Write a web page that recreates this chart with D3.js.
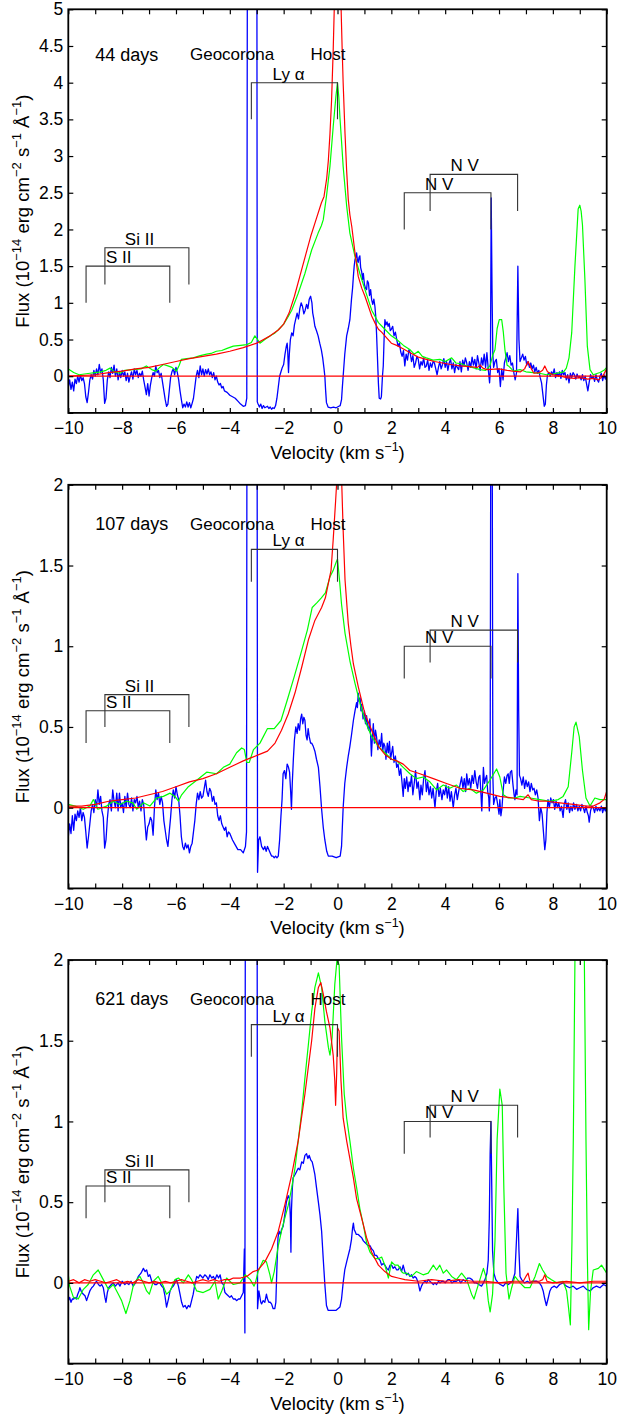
<!DOCTYPE html>
<html><head><meta charset="utf-8">
<script src="https://cdn.jsdelivr.net/npm/d3@7"></script>
<style>body{margin:0;background:#fff} text{font-family:"Liberation Sans",Arial,sans-serif;fill:#000}</style>
</head><body><svg id="c" width="618" height="1415"></svg>
<script>
// ---------- DATA (velocity km/s, flux 1e-14 erg cm^-2 s^-1 A^-1) ----------
const blue44 = [[-10,-0.15],[-9.95,-0.05],[-9.9,-0.18],[-9.85,-0.08],[-9.8,-0.2],[-9.75,-0.04],[-9.7,-0.1],[-9.65,0.0],[-9.6,-0.08],[-9.55,0.02],[-9.5,-0.06],[-9.45,-0.02],[-9.4,-0.1],[-9.35,-0.28],[-9.3,-0.36],[-9.25,-0.22],[-9.2,-0.05],[-9.15,0.02],[-9.1,-0.04],[-9.05,0.08],[-9.0,0.0],[-8.95,0.1],[-8.9,0.02],[-8.85,0.16],[-8.8,0.05],[-8.75,0.1],[-8.7,-0.05],[-8.65,-0.37],[-8.6,-0.3],[-8.55,-0.05],[-8.5,0.06],[-8.45,-0.02],[-8.4,0.12],[-8.35,0.04],[-8.3,0.15],[-8.25,0.0],[-8.2,0.1],[-8.15,-0.05],[-8.1,0.05],[-8.05,-0.02],[-8.0,0.08],[-7.95,0.0],[-7.9,0.06],[-7.85,-0.06],[-7.8,0.04],[-7.75,-0.08],[-7.7,0.0],[-7.65,0.06],[-7.6,-0.04],[-7.55,0.1],[-7.5,0.02],[-7.45,0.08],[-7.4,-0.02],[-7.35,0.04],[-7.3,0.0],[-7.25,0.07],[-7.2,-0.05],[-7.15,-0.15],[-7.1,-0.25],[-7.05,-0.1],[-7.0,-0.27],[-6.95,-0.12],[-6.9,-0.02],[-6.85,0.05],[-6.8,0.0],[-6.75,0.14],[-6.7,0.05],[-6.65,0.08],[-6.6,-0.02],[-6.55,0.04],[-6.5,-0.08],[-6.45,-0.2],[-6.4,-0.32],[-6.35,-0.41],[-6.3,-0.38],[-6.25,-0.2],[-6.2,-0.02],[-6.15,0.06],[-6.1,0.1],[-6.05,0.02],[-6.0,0.12],[-5.95,0.05],[-5.9,-0.05],[-5.85,-0.2],[-5.8,-0.32],[-5.75,-0.43],[-5.7,-0.38],[-5.65,-0.42],[-5.6,-0.35],[-5.55,-0.42],[-5.5,-0.36],[-5.45,-0.43],[-5.4,-0.37],[-5.35,-0.3],[-5.3,-0.15],[-5.25,0.0],[-5.2,0.08],[-5.15,-0.02],[-5.1,0.14],[-5.05,0.02],[-5.0,0.1],[-4.95,0.0],[-4.9,0.09],[-4.85,0.03],[-4.8,0.1],[-4.75,0.02],[-4.7,0.06],[-4.65,-0.02],[-4.6,0.05],[-4.55,-0.05],[-4.5,0.0],[-4.45,-0.08],[-4.4,-0.12],[-4.35,-0.1],[-4.3,-0.16],[-4.25,-0.14],[-4.2,-0.2],[-4.1,-0.22],[-4.0,-0.26],[-3.9,-0.28],[-3.8,-0.3],[-3.7,-0.34],[-3.6,-0.38],[-3.5,-0.41],[-3.42,-0.4],[-3.37,-0.3],[-3.34,8],[-3.0,8],[-2.98,-0.35],[-2.95,-0.38],[-2.9,-0.42],[-2.85,-0.38],[-2.8,-0.44],[-2.75,-0.4],[-2.7,-0.43],[-2.6,-0.41],[-2.55,-0.44],[-2.5,-0.42],[-2.45,-0.45],[-2.4,-0.43],[-2.35,-0.44],[-2.3,-0.4],[-2.25,-0.3],[-2.2,-0.15],[-2.15,0.0],[-2.1,0.06],[-2.05,0.12],[-2.0,0.16],[-1.95,0.3],[-1.9,0.41],[-1.87,0.45],[-1.85,0.35],[-1.82,0.05],[-1.79,0.3],[-1.75,0.5],[-1.7,0.59],[-1.65,0.55],[-1.6,0.7],[-1.55,0.78],[-1.5,0.86],[-1.45,0.78],[-1.4,0.92],[-1.35,1.0],[-1.3,0.95],[-1.25,0.85],[-1.2,0.9],[-1.15,0.98],[-1.1,0.92],[-1.05,1.05],[-1.0,1.09],[-0.95,1.0],[-0.92,0.86],[-0.88,0.78],[-0.84,0.68],[-0.78,0.62],[-0.72,0.55],[-0.66,0.45],[-0.6,0.36],[-0.55,0.25],[-0.5,0.1],[-0.47,0.0],[-0.44,-0.2],[-0.41,-0.36],[-0.35,-0.42],[-0.25,-0.43],[-0.15,-0.42],[-0.05,-0.43],[0.05,-0.41],[0.1,-0.4],[0.15,-0.32],[0.18,-0.15],[0.21,0.0],[0.27,0.3],[0.34,0.55],[0.4,0.65],[0.46,0.77],[0.52,1.05],[0.56,1.2],[0.59,1.36],[0.62,1.5],[0.65,1.59],[0.68,1.62],[0.71,1.68],[0.74,1.58],[0.77,1.55],[0.8,1.62],[0.83,1.64],[0.86,1.48],[0.9,1.42],[0.93,1.32],[0.96,1.4],[1.0,1.25],[1.04,1.2],[1.08,1.18],[1.11,1.3],[1.15,1.27],[1.19,1.1],[1.23,1.18],[1.27,1.04],[1.31,0.98],[1.35,1.05],[1.39,0.95],[1.42,0.82],[1.45,0.59],[1.48,0.3],[1.52,-0.1],[1.55,-0.3],[1.6,-0.31],[1.63,-0.28],[1.67,0.0],[1.7,0.14],[1.73,0.5],[1.76,0.77],[1.8,0.7],[1.84,0.74],[1.88,0.68],[1.92,0.72],[1.96,0.62],[2.0,0.64],[2.05,0.68],[2.1,0.55],[2.15,0.6],[2.2,0.5],[2.25,0.41],[2.3,0.45],[2.35,0.33],[2.4,0.27],[2.45,0.35],[2.5,0.14],[2.55,0.3],[2.6,0.22],[2.65,0.36],[2.7,0.32],[2.75,0.2],[2.8,0.28],[2.85,0.12],[2.9,0.18],[2.95,0.27],[3.0,0.23],[3.05,0.1],[3.1,0.2],[3.15,0.15],[3.2,0.25],[3.25,0.12],[3.3,0.14],[3.35,0.22],[3.4,0.08],[3.45,0.18],[3.5,0.12],[3.55,0.2],[3.6,0.18],[3.65,0.1],[3.7,0.02],[3.75,0.12],[3.8,0.2],[3.85,0.1],[3.9,0.16],[3.95,0.24],[4.0,0.12],[4.05,0.2],[4.1,0.08],[4.15,0.18],[4.2,0.23],[4.25,0.1],[4.3,0.18],[4.35,0.05],[4.4,0.16],[4.45,0.12],[4.5,0.09],[4.55,0.2],[4.6,0.06],[4.65,0.22],[4.7,0.14],[4.75,0.25],[4.8,0.18],[4.85,0.08],[4.9,0.2],[4.95,0.12],[5.0,0.26],[5.05,0.15],[5.1,0.23],[5.15,0.1],[5.2,0.28],[5.25,0.18],[5.3,0.08],[5.35,0.25],[5.4,0.15],[5.45,0.3],[5.5,0.12],[5.55,0.32],[5.6,0.1],[5.65,-0.09],[5.68,0.1],[5.71,2.43],[5.74,1.2],[5.77,0.3],[5.8,0.12],[5.85,0.2],[5.9,0.23],[5.95,0.05],[6.0,0.1],[6.05,-0.14],[6.1,0.1],[6.15,-0.05],[6.2,0.18],[6.25,0.25],[6.3,0.32],[6.35,0.2],[6.4,0.28],[6.45,0.15],[6.5,0.18],[6.55,0.05],[6.6,-0.05],[6.65,0.05],[6.7,1.5],[6.74,0.5],[6.78,0.2],[6.83,0.25],[6.88,0.3],[6.93,0.22],[6.98,0.27],[7.03,0.15],[7.08,0.2],[7.13,0.12],[7.18,0.18],[7.23,0.1],[7.28,0.15],[7.33,0.06],[7.38,0.12],[7.43,0.04],[7.48,0.08],[7.53,-0.02],[7.58,-0.09],[7.63,-0.25],[7.68,-0.41],[7.72,-0.38],[7.76,-0.12],[7.8,0.02],[7.85,0.05],[7.9,0.0],[7.95,0.06],[8.0,0.02],[8.05,0.1],[8.1,-0.02],[8.15,0.05],[8.2,0.0],[8.25,0.06],[8.3,-0.03],[8.35,0.08],[8.4,0.02],[8.45,0.05],[8.5,-0.05],[8.55,0.02],[8.6,-0.09],[8.65,0.04],[8.7,-0.02],[8.75,0.05],[8.8,0.02],[8.85,-0.04],[8.9,0.03],[8.95,-0.02],[9.0,0.0],[9.05,-0.05],[9.1,0.02],[9.15,-0.06],[9.2,0.0],[9.25,-0.1],[9.3,-0.2],[9.35,-0.08],[9.4,0.02],[9.45,-0.03],[9.5,0.0],[9.55,-0.07],[9.6,0.02],[9.65,-0.05],[9.7,-0.08],[9.75,0.0],[9.8,0.04],[9.85,-0.06],[9.9,0.02],[9.95,-0.04],[10.0,0.0]];
const red44 = [[-10,0.0],[-9.5,0.01],[-9,0.02],[-8.5,0.05],[-8,0.07],[-7.5,0.1],[-7,0.12],[-6.5,0.16],[-6,0.2],[-5.5,0.24],[-5,0.27],[-4.5,0.3],[-4,0.34],[-3.5,0.39],[-3,0.45],[-2.5,0.55],[-2.2,0.63],[-2,0.71],[-1.8,0.86],[-1.6,1.09],[-1.4,1.36],[-1.2,1.63],[-1.0,1.9],[-0.8,2.13],[-0.6,2.36],[-0.5,2.45],[-0.4,2.7],[-0.34,2.94],[-0.28,3.3],[-0.22,3.76],[-0.16,4.44],[-0.1,5.3],[-0.05,6.5],[0.05,6.5],[0.12,5.2],[0.17,4.5],[0.21,4.0],[0.28,3.3],[0.34,2.8],[0.4,2.41],[0.46,2.2],[0.53,2.04],[0.65,1.68],[0.77,1.36],[0.9,1.2],[1.02,1.09],[1.15,0.95],[1.27,0.82],[1.4,0.72],[1.52,0.64],[1.64,0.6],[1.76,0.55],[2.0,0.45],[2.2,0.42],[2.4,0.38],[2.7,0.32],[3.0,0.26],[3.3,0.23],[3.6,0.2],[3.9,0.18],[4.2,0.16],[4.55,0.14],[4.9,0.13],[5.2,0.12],[5.3,0.15],[5.4,0.11],[5.55,0.09],[6.0,0.1],[6.3,0.08],[6.5,0.07],[6.8,0.06],[6.95,0.1],[7.08,0.2],[7.2,0.1],[7.3,0.04],[7.5,0.05],[7.62,0.08],[7.7,0.14],[7.8,0.06],[8.0,0.02],[8.3,0.0],[8.5,-0.02],[8.8,-0.03],[9.0,-0.02],[9.3,-0.04],[9.5,-0.03],[9.7,-0.05],[9.85,0.0],[10,0.1]];
const green44 = [[-10,0.1],[-9.8,0.05],[-9.6,0.02],[-9.4,0.03],[-9.2,0.04],[-9.0,0.05],[-8.8,0.06],[-8.6,0.08],[-8.45,0.11],[-8.3,0.06],[-8.08,0.04],[-7.9,0.08],[-7.6,0.09],[-7.3,0.1],[-7.1,0.14],[-6.9,0.09],[-6.75,0.07],[-6.6,0.12],[-6.47,0.16],[-6.3,0.14],[-6.15,0.12],[-5.98,0.07],[-5.88,0.15],[-5.8,0.23],[-5.6,0.24],[-5.36,0.25],[-5.1,0.28],[-4.86,0.3],[-4.7,0.31],[-4.5,0.34],[-4.3,0.35],[-4.1,0.38],[-3.87,0.41],[-3.6,0.42],[-3.37,0.43],[-3.2,0.46],[-3.07,0.55],[-2.97,0.5],[-2.88,0.45],[-2.7,0.5],[-2.5,0.55],[-2.32,0.59],[-2.15,0.65],[-2.0,0.71],[-1.85,0.8],[-1.7,0.9],[-1.46,1.13],[-1.21,1.4],[-0.96,1.72],[-0.72,1.95],[-0.6,2.05],[-0.53,2.13],[-0.41,2.45],[-0.28,2.86],[-0.16,3.4],[-0.06,3.81],[0.0,4.0],[0.05,3.8],[0.09,3.53],[0.15,3.2],[0.21,2.86],[0.34,2.32],[0.46,1.95],[0.65,1.63],[0.83,1.4],[1.02,1.18],[1.27,0.9],[1.52,0.73],[1.76,0.64],[2.0,0.55],[2.2,0.5],[2.45,0.42],[2.7,0.36],[2.85,0.3],[3.0,0.34],[3.15,0.27],[3.3,0.25],[3.55,0.22],[3.8,0.23],[4.0,0.2],[4.24,0.25],[4.4,0.18],[4.6,0.17],[4.8,0.14],[5.0,0.12],[5.3,0.09],[5.5,0.08],[5.66,0.14],[5.78,0.3],[5.85,0.36],[5.93,0.65],[6.01,0.77],[6.1,0.77],[6.16,0.6],[6.22,0.36],[6.3,0.15],[6.35,0.14],[6.54,0.07],[6.78,0.09],[7.0,0.06],[7.27,0.05],[7.5,0.04],[7.76,0.02],[8.0,0.03],[8.27,0.05],[8.4,0.06],[8.5,0.11],[8.6,0.25],[8.7,0.59],[8.82,1.5],[8.94,2.28],[9.0,2.33],[9.05,2.25],[9.1,2.06],[9.19,1.32],[9.28,0.41],[9.38,0.09],[9.5,0.02],[9.75,0.05],[9.9,0.08],[10,0.12]];

const blue107 = [[-10,-0.18],[-9.95,-0.1],[-9.9,-0.16],[-9.85,-0.05],[-9.8,-0.14],[-9.75,-0.04],[-9.7,-0.08],[-9.65,-0.02],[-9.6,-0.06],[-9.55,0.0],[-9.5,-0.08],[-9.45,-0.03],[-9.4,-0.06],[-9.35,-0.15],[-9.3,-0.25],[-9.25,-0.18],[-9.2,-0.1],[-9.15,-0.02],[-9.1,0.02],[-9.05,-0.03],[-9.0,0.05],[-8.95,0.0],[-8.9,0.11],[-8.85,0.02],[-8.8,0.07],[-8.75,-0.02],[-8.7,-0.06],[-8.65,-0.25],[-8.6,-0.2],[-8.55,-0.07],[-8.5,0.02],[-8.45,0.05],[-8.4,-0.02],[-8.35,0.11],[-8.3,0.04],[-8.25,0.0],[-8.2,0.09],[-8.15,-0.02],[-8.1,0.09],[-8.05,0.0],[-8.0,0.03],[-7.95,-0.03],[-7.9,0.07],[-7.85,0.0],[-7.8,0.09],[-7.75,0.02],[-7.7,0.0],[-7.65,0.06],[-7.6,-0.02],[-7.55,0.05],[-7.5,0.03],[-7.45,0.07],[-7.4,0.0],[-7.35,0.04],[-7.3,-0.02],[-7.25,0.05],[-7.2,0.02],[-7.15,-0.1],[-7.1,-0.2],[-7.05,-0.12],[-7.0,-0.1],[-6.95,-0.06],[-6.9,-0.08],[-6.85,-0.17],[-6.8,0.0],[-6.75,0.11],[-6.7,0.05],[-6.65,0.09],[-6.6,0.02],[-6.55,0.07],[-6.5,0.03],[-6.45,-0.08],[-6.4,-0.14],[-6.35,-0.2],[-6.3,-0.24],[-6.25,-0.15],[-6.2,-0.06],[-6.15,0.05],[-6.1,0.11],[-6.05,0.06],[-6.0,0.13],[-5.95,0.08],[-5.9,0.05],[-5.85,-0.05],[-5.8,-0.18],[-5.75,-0.24],[-5.7,-0.26],[-5.65,-0.22],[-5.6,-0.25],[-5.55,-0.23],[-5.5,-0.28],[-5.45,-0.24],[-5.4,-0.22],[-5.35,-0.15],[-5.3,-0.08],[-5.25,0.02],[-5.2,0.09],[-5.15,0.05],[-5.1,0.1],[-5.05,0.06],[-5.0,0.07],[-4.95,0.12],[-4.9,0.17],[-4.85,0.1],[-4.8,0.07],[-4.75,0.12],[-4.7,0.1],[-4.65,0.04],[-4.6,0.07],[-4.55,0.02],[-4.5,0.03],[-4.45,-0.05],[-4.4,-0.08],[-4.35,-0.05],[-4.3,-0.1],[-4.25,-0.12],[-4.2,-0.14],[-4.15,-0.12],[-4.1,-0.18],[-4.05,-0.15],[-4.0,-0.16],[-3.9,-0.2],[-3.8,-0.23],[-3.7,-0.26],[-3.6,-0.26],[-3.5,-0.28],[-3.42,-0.24],[-3.38,-0.15],[-3.36,3],[-2.99,3],[-2.97,-0.4],[-2.93,-0.2],[-2.88,-0.18],[-2.82,-0.24],[-2.75,-0.26],[-2.7,-0.24],[-2.65,-0.27],[-2.6,-0.24],[-2.55,-0.26],[-2.5,-0.28],[-2.45,-0.3],[-2.4,-0.3],[-2.35,-0.31],[-2.3,-0.3],[-2.25,-0.31],[-2.2,-0.3],[-2.15,-0.2],[-2.1,-0.05],[-2.06,0.05],[-2.02,0.21],[-1.97,0.23],[-1.92,0.18],[-1.87,0.27],[-1.82,0.25],[-1.78,0.22],[-1.74,0.1],[-1.71,-0.01],[-1.68,0.15],[-1.64,0.3],[-1.6,0.42],[-1.55,0.5],[-1.5,0.46],[-1.46,0.52],[-1.41,0.48],[-1.37,0.55],[-1.33,0.58],[-1.29,0.52],[-1.25,0.56],[-1.21,0.54],[-1.17,0.45],[-1.13,0.42],[-1.09,0.49],[-1.05,0.44],[-1.0,0.4],[-0.96,0.4],[-0.9,0.38],[-0.84,0.35],[-0.78,0.3],[-0.71,0.25],[-0.65,0.13],[-0.59,-0.01],[-0.53,-0.12],[-0.47,-0.2],[-0.4,-0.27],[-0.34,-0.3],[-0.2,-0.3],[-0.05,-0.31],[0.1,-0.3],[0.15,-0.24],[0.18,-0.12],[0.21,0.0],[0.27,0.15],[0.34,0.25],[0.4,0.32],[0.46,0.38],[0.52,0.45],[0.59,0.54],[0.65,0.6],[0.71,0.65],[0.74,0.62],[0.77,0.71],[0.8,0.66],[0.84,0.68],[0.87,0.6],[0.9,0.64],[0.95,0.55],[1.0,0.6],[1.04,0.52],[1.08,0.57],[1.12,0.5],[1.16,0.48],[1.2,0.55],[1.23,0.45],[1.26,0.32],[1.29,0.42],[1.33,0.52],[1.37,0.4],[1.41,0.48],[1.45,0.44],[1.5,0.36],[1.55,0.42],[1.6,0.38],[1.64,0.46],[1.68,0.35],[1.72,0.4],[1.76,0.38],[1.8,0.3],[1.85,0.4],[1.89,0.34],[1.93,0.41],[1.97,0.3],[2.01,0.34],[2.05,0.38],[2.1,0.28],[2.15,0.32],[2.2,0.25],[2.25,0.27],[2.3,0.2],[2.35,0.24],[2.4,0.15],[2.44,0.07],[2.48,0.18],[2.52,0.12],[2.57,0.19],[2.62,0.1],[2.66,0.16],[2.7,0.13],[2.75,0.2],[2.8,0.08],[2.85,0.15],[2.9,0.23],[2.95,0.12],[3.0,0.16],[3.06,0.05],[3.1,0.14],[3.15,0.08],[3.2,0.18],[3.25,0.23],[3.3,0.1],[3.35,0.16],[3.4,0.08],[3.45,0.13],[3.5,0.06],[3.55,0.12],[3.62,0.0],[3.67,0.1],[3.72,0.15],[3.77,0.07],[3.82,0.12],[3.88,0.05],[3.93,0.11],[3.98,0.08],[4.03,0.14],[4.08,0.06],[4.13,0.13],[4.18,0.04],[4.23,0.1],[4.3,0.0],[4.35,0.08],[4.4,0.12],[4.45,0.05],[4.5,0.1],[4.55,0.14],[4.61,0.19],[4.66,0.12],[4.71,0.18],[4.76,0.1],[4.8,0.21],[4.85,0.14],[4.9,0.18],[4.95,0.12],[5.0,0.2],[5.05,0.15],[5.1,0.23],[5.15,0.16],[5.2,0.12],[5.25,0.19],[5.29,0.2],[5.33,0.08],[5.36,-0.02],[5.39,0.12],[5.42,0.25],[5.46,0.15],[5.5,0.18],[5.54,0.2],[5.58,0.1],[5.62,0.06],[5.64,-0.02],[5.67,0.1],[5.7,3.0],[5.74,3.0],[5.77,0.2],[5.8,0.02],[5.85,0.06],[5.9,0.07],[5.95,0.02],[6.0,-0.04],[6.03,0.05],[6.07,-0.05],[6.11,0.0],[6.15,0.1],[6.2,0.19],[6.25,0.15],[6.3,0.2],[6.34,0.21],[6.38,0.15],[6.42,0.22],[6.47,0.23],[6.52,0.14],[6.56,0.08],[6.59,0.05],[6.63,0.11],[6.67,0.08],[6.7,1.45],[6.73,0.6],[6.76,0.2],[6.8,0.18],[6.85,0.14],[6.9,0.19],[6.95,0.12],[7.0,0.17],[7.05,0.13],[7.1,0.16],[7.15,0.1],[7.2,0.15],[7.25,0.11],[7.3,0.12],[7.35,0.08],[7.4,0.11],[7.45,0.06],[7.5,-0.08],[7.55,0.0],[7.6,-0.04],[7.65,-0.15],[7.7,-0.26],[7.74,-0.2],[7.78,-0.03],[7.82,0.05],[7.87,0.0],[7.92,0.06],[7.97,0.03],[8.02,0.05],[8.07,-0.01],[8.12,0.04],[8.17,0.0],[8.22,0.03],[8.27,-0.02],[8.32,0.01],[8.38,-0.06],[8.42,0.02],[8.47,0.05],[8.52,-0.01],[8.57,0.03],[8.62,-0.03],[8.67,0.01],[8.72,-0.02],[8.77,0.03],[8.82,-0.01],[8.88,0.02],[8.93,-0.02],[8.98,0.01],[9.03,-0.02],[9.08,0.02],[9.13,0.0],[9.18,-0.03],[9.23,0.01],[9.28,-0.03],[9.32,-0.05],[9.35,-0.09],[9.4,-0.02],[9.45,0.01],[9.5,0.0],[9.55,-0.03],[9.6,0.01],[9.65,-0.02],[9.7,0.0],[9.75,-0.02],[9.8,0.01],[9.85,-0.03],[9.9,0.0],[9.95,-0.02],[10,0.0]];
const red107 = [[-10,0.01],[-9.5,0.01],[-9,0.02],[-8.5,0.04],[-8,0.05],[-7.5,0.06],[-7,0.08],[-6.5,0.1],[-6,0.13],[-5.5,0.16],[-5,0.18],[-4.5,0.21],[-4,0.25],[-3.5,0.29],[-3.2,0.31],[-2.9,0.33],[-2.6,0.35],[-2.32,0.4],[-2.08,0.48],[-1.83,0.58],[-1.58,0.71],[-1.33,0.87],[-1.08,1.04],[-0.84,1.16],[-0.59,1.24],[-0.45,1.3],[-0.34,1.39],[-0.24,1.47],[-0.16,1.66],[-0.07,1.9],[0.0,2.1],[0.1,2.5],[0.15,2.05],[0.21,1.72],[0.28,1.41],[0.4,1.14],[0.5,1.0],[0.59,0.89],[0.77,0.75],[1.02,0.58],[1.27,0.48],[1.52,0.38],[1.76,0.33],[2.01,0.3],[2.2,0.29],[2.44,0.27],[2.69,0.23],[3.06,0.21],[3.56,0.18],[4.05,0.15],[4.55,0.12],[5.04,0.11],[5.54,0.09],[6.03,0.07],[6.53,0.06],[6.9,0.05],[7.08,0.08],[7.2,0.05],[7.5,0.04],[7.77,0.04],[8.26,0.03],[8.76,0.02],[9.25,0.01],[9.5,0.01],[9.75,0.03],[9.9,0.05],[10,0.1]];
const green107 = [[-10,0.02],[-9.75,0.01],[-9.44,-0.01],[-9.2,0.01],[-9.07,0.05],[-8.9,-0.01],[-8.58,0.01],[-8.33,0.04],[-8.08,0.02],[-7.83,0.04],[-7.6,0.03],[-7.46,-0.01],[-7.21,0.03],[-6.97,0.01],[-6.72,0.06],[-6.47,0.07],[-6.22,0.09],[-6.04,0.07],[-5.91,0.04],[-5.79,0.08],[-5.54,0.13],[-5.23,0.17],[-4.86,0.22],[-4.49,0.21],[-4.24,0.25],[-4.0,0.27],[-3.75,0.34],[-3.56,0.37],[-3.46,0.36],[-3.37,0.28],[-3.28,0.28],[-3.12,0.36],[-2.88,0.4],[-2.6,0.49],[-2.35,0.49],[-2.1,0.54],[-1.86,0.67],[-1.61,0.81],[-1.37,0.95],[-1.12,1.1],[-0.94,1.24],[-0.76,1.27],[-0.6,1.3],[-0.45,1.33],[-0.28,1.43],[-0.16,1.47],[-0.05,1.52],[0.0,1.54],[0.08,1.4],[0.15,1.26],[0.28,1.08],[0.46,0.91],[0.65,0.77],[0.83,0.65],[1.02,0.54],[1.27,0.44],[1.52,0.38],[1.76,0.34],[2.01,0.3],[2.2,0.29],[2.44,0.25],[2.69,0.21],[2.93,0.18],[3.18,0.19],[3.43,0.16],[3.68,0.11],[3.93,0.14],[4.17,0.12],[4.42,0.14],[4.67,0.1],[4.91,0.12],[5.16,0.09],[5.42,0.11],[5.66,0.17],[5.91,0.24],[6.03,0.19],[6.16,0.08],[6.34,0.06],[6.59,0.06],[6.78,0.07],[7.15,0.06],[7.52,0.05],[7.89,0.04],[8.2,0.05],[8.38,0.07],[8.57,0.13],[8.7,0.34],[8.79,0.5],[8.86,0.53],[8.98,0.44],[9.1,0.23],[9.23,0.06],[9.38,0.01],[9.56,0.06],[9.75,0.05],[10,0.05]];

const blue621 = [[-10,-0.11],[-9.95,-0.09],[-9.9,-0.12],[-9.85,-0.1],[-9.8,-0.1],[-9.75,-0.09],[-9.7,-0.1],[-9.65,-0.07],[-9.6,-0.05],[-9.57,-0.03],[-9.5,-0.06],[-9.44,-0.07],[-9.38,-0.08],[-9.32,-0.11],[-9.26,-0.08],[-9.2,-0.05],[-9.13,-0.03],[-9.07,-0.02],[-9.0,0.0],[-8.95,0.01],[-8.88,-0.01],[-8.82,-0.02],[-8.76,-0.01],[-8.7,-0.03],[-8.64,-0.09],[-8.6,-0.12],[-8.55,-0.06],[-8.5,-0.03],[-8.4,-0.01],[-8.33,0.0],[-8.25,-0.02],[-8.15,0.0],[-8.08,-0.02],[-8.0,0.01],[-7.9,-0.01],[-7.83,0.0],[-7.75,-0.01],[-7.67,0.01],[-7.59,-0.02],[-7.5,0.0],[-7.4,0.04],[-7.3,0.06],[-7.21,0.09],[-7.15,0.07],[-7.09,0.08],[-7.03,0.04],[-6.97,0.05],[-6.9,0.01],[-6.84,0.0],[-6.78,-0.01],[-6.72,-0.01],[-6.66,0.0],[-6.6,0.0],[-6.53,-0.02],[-6.47,-0.03],[-6.41,-0.08],[-6.35,-0.15],[-6.28,-0.1],[-6.22,-0.05],[-6.16,-0.03],[-6.1,-0.02],[-6.04,0.0],[-5.98,0.02],[-5.91,-0.02],[-5.85,-0.07],[-5.79,-0.12],[-5.73,-0.15],[-5.66,-0.14],[-5.6,-0.16],[-5.54,-0.14],[-5.48,-0.15],[-5.42,-0.11],[-5.36,-0.07],[-5.3,-0.01],[-5.23,0.04],[-5.17,0.03],[-5.11,0.05],[-5.0,0.03],[-4.93,0.05],[-4.86,0.04],[-4.8,0.02],[-4.74,0.05],[-4.67,0.03],[-4.61,0.04],[-4.55,0.02],[-4.48,0.05],[-4.42,0.03],[-4.36,0.05],[-4.3,0.0],[-4.24,-0.01],[-4.18,-0.06],[-4.12,-0.07],[-4.06,-0.08],[-4.0,-0.09],[-3.94,-0.08],[-3.87,-0.1],[-3.8,-0.1],[-3.75,-0.11],[-3.68,-0.1],[-3.62,-0.1],[-3.56,-0.08],[-3.5,-0.06],[-3.46,0.21],[-3.44,-0.31],[-3.42,3],[-2.99,3],[-2.97,-0.16],[-2.92,-0.05],[-2.89,-0.08],[-2.85,-0.12],[-2.82,-0.13],[-2.76,-0.11],[-2.7,-0.12],[-2.64,-0.07],[-2.6,-0.1],[-2.55,-0.12],[-2.5,-0.12],[-2.45,-0.13],[-2.39,-0.16],[-2.33,-0.16],[-2.29,-0.12],[-2.25,0.1],[-2.21,0.28],[-2.17,0.32],[-2.12,0.3],[-2.08,0.33],[-2.02,0.35],[-1.96,0.42],[-1.9,0.5],[-1.83,0.54],[-1.78,0.52],[-1.75,0.4],[-1.73,0.19],[-1.71,0.45],[-1.68,0.58],[-1.65,0.65],[-1.58,0.67],[-1.52,0.69],[-1.46,0.71],[-1.4,0.7],[-1.33,0.75],[-1.27,0.74],[-1.21,0.79],[-1.15,0.8],[-1.1,0.77],[-1.05,0.79],[-0.99,0.76],[-0.94,0.75],[-0.9,0.72],[-0.84,0.67],[-0.78,0.59],[-0.71,0.5],[-0.65,0.42],[-0.59,0.32],[-0.53,0.15],[-0.47,-0.01],[-0.41,-0.14],[-0.35,-0.17],[-0.2,-0.17],[-0.05,-0.17],[0.09,-0.15],[0.15,-0.1],[0.21,0.0],[0.27,0.08],[0.34,0.13],[0.4,0.17],[0.46,0.21],[0.52,0.27],[0.56,0.34],[0.59,0.37],[0.62,0.33],[0.65,0.32],[0.7,0.3],[0.77,0.3],[0.83,0.29],[0.9,0.28],[0.96,0.26],[1.02,0.25],[1.08,0.24],[1.15,0.23],[1.21,0.23],[1.27,0.21],[1.33,0.2],[1.39,0.17],[1.45,0.17],[1.52,0.15],[1.58,0.14],[1.64,0.11],[1.7,0.12],[1.76,0.11],[1.83,0.09],[1.89,0.08],[1.95,0.11],[2.01,0.11],[2.07,0.09],[2.13,0.1],[2.2,0.08],[2.25,0.08],[2.32,0.1],[2.38,0.07],[2.44,0.11],[2.5,0.07],[2.57,0.05],[2.63,0.06],[2.69,0.04],[2.75,0.05],[2.81,0.03],[2.87,0.04],[2.93,0.03],[3.0,0.0],[3.06,-0.05],[3.12,-0.02],[3.18,0.0],[3.25,0.01],[3.31,0.0],[3.37,0.02],[3.43,0.01],[3.5,0.0],[3.56,-0.01],[3.62,0.0],[3.68,-0.01],[3.75,0.01],[3.81,0.0],[3.87,0.01],[3.93,0.01],[4.0,0.0],[4.1,0.02],[4.17,0.02],[4.25,0.0],[4.33,0.01],[4.42,0.01],[4.5,0.02],[4.58,0.0],[4.67,0.02],[4.75,0.01],[4.83,0.03],[4.91,0.03],[5.0,0.02],[5.08,0.0],[5.16,0.0],[5.25,-0.01],[5.35,-0.02],[5.42,0.0],[5.48,0.02],[5.55,0.06],[5.6,0.14],[5.64,0.4],[5.67,0.8],[5.7,1.0],[5.73,0.6],[5.76,0.2],[5.81,0.06],[5.88,0.02],[5.97,0.0],[6.05,-0.01],[6.16,-0.02],[6.25,0.0],[6.35,-0.01],[6.41,0.0],[6.5,0.01],[6.59,0.06],[6.65,0.27],[6.7,0.46],[6.74,0.2],[6.78,0.04],[6.84,0.02],[6.95,0.0],[7.05,0.01],[7.15,0.0],[7.25,0.01],[7.4,0.01],[7.5,0.0],[7.58,-0.02],[7.64,-0.05],[7.7,-0.1],[7.76,-0.14],[7.82,-0.1],[7.89,-0.05],[7.95,-0.03],[8.05,-0.02],[8.14,-0.03],[8.25,-0.01],[8.38,0.0],[8.5,-0.02],[8.63,-0.03],[8.75,-0.02],[8.88,-0.04],[9.0,-0.03],[9.13,-0.02],[9.25,-0.04],[9.38,-0.05],[9.5,-0.03],[9.62,-0.02],[9.75,-0.03],[9.88,-0.01],[10,-0.02]];
const red621 = [[-10,0.01],[-9.8,0.02],[-9.6,0.0],[-9.4,0.02],[-9.2,0.01],[-9.0,0.02],[-8.8,0.01],[-8.6,0.0],[-8.4,0.01],[-8.2,0.02],[-8.0,0.0],[-7.8,0.01],[-7.6,0.0],[-7.4,0.02],[-7.2,0.01],[-7.0,0.0],[-6.8,0.01],[-6.6,0.0],[-6.4,0.01],[-6.2,0.0],[-6.0,0.01],[-5.8,0.02],[-5.6,0.01],[-5.4,0.0],[-5.2,0.01],[-5.0,0.02],[-4.8,0.01],[-4.6,0.02],[-4.4,0.01],[-4.2,0.02],[-4.0,0.02],[-3.87,0.03],[-3.6,0.03],[-3.37,0.04],[-3.13,0.07],[-2.95,0.08],[-2.7,0.13],[-2.45,0.21],[-2.2,0.32],[-1.96,0.48],[-1.7,0.67],[-1.46,0.88],[-1.21,1.17],[-0.96,1.5],[-0.84,1.7],[-0.71,1.83],[-0.62,1.86],[-0.53,1.79],[-0.41,1.68],[-0.28,1.58],[-0.16,1.41],[-0.1,1.25],[-0.07,1.1],[-0.03,1.3],[0.0,1.58],[0.06,1.56],[0.13,1.25],[0.21,1.02],[0.34,0.88],[0.46,0.77],[0.59,0.65],[0.71,0.52],[0.9,0.4],[1.08,0.28],[1.27,0.19],[1.52,0.11],[1.76,0.07],[2.01,0.04],[2.25,0.03],[2.5,0.02],[3.0,0.01],[3.5,0.02],[4.0,0.01],[4.5,0.02],[5.0,0.01],[5.5,0.01],[6.0,0.0],[6.5,0.01],[6.9,0.01],[7.0,0.04],[7.08,0.06],[7.15,0.01],[7.5,0.01],[7.62,0.02],[7.7,0.05],[7.78,0.01],[8.0,0.0],[8.5,0.01],[9.0,0.0],[9.5,0.01],[10,0.01]];
const green621 = [[-10,0.05],[-9.95,-0.02],[-9.81,-0.09],[-9.63,-0.1],[-9.44,-0.04],[-9.26,-0.01],[-9.07,0.05],[-8.89,0.08],[-8.7,0.02],[-8.51,-0.04],[-8.33,-0.01],[-8.14,-0.07],[-8.02,-0.11],[-7.86,-0.19],[-7.71,-0.11],[-7.59,-0.02],[-7.46,0.02],[-7.34,0.04],[-7.21,0.0],[-7.09,-0.05],[-6.99,-0.07],[-6.84,0.01],[-6.66,0.04],[-6.47,-0.02],[-6.35,-0.07],[-6.22,-0.05],[-6.04,0.02],[-5.91,0.03],[-5.73,0.0],[-5.54,0.05],[-5.42,0.02],[-5.23,-0.05],[-4.99,-0.06],[-4.74,-0.04],[-4.55,0.01],[-4.43,-0.1],[-4.3,-0.05],[-4.12,0.03],[-4.0,0.01],[-3.87,-0.01],[-3.62,0.0],[-3.43,0.05],[-3.24,0.02],[-3.1,-0.02],[-3.05,0.0],[-2.95,0.07],[-2.76,0.14],[-2.64,0.13],[-2.51,0.05],[-2.45,0.0],[-2.35,0.07],[-2.2,0.23],[-2.08,0.32],[-1.96,0.4],[-1.83,0.48],[-1.7,0.59],[-1.58,0.71],[-1.46,0.88],[-1.33,1.06],[-1.21,1.27],[-1.08,1.48],[-0.96,1.68],[-0.84,1.83],[-0.71,1.92],[-0.59,1.83],[-0.47,1.62],[-0.34,1.46],[-0.28,1.41],[-0.2,1.52],[-0.1,1.85],[-0.02,2.0],[0.06,1.97],[0.15,1.52],[0.25,1.17],[0.34,1.02],[0.46,0.88],[0.59,0.71],[0.71,0.59],[0.83,0.46],[0.96,0.36],[1.08,0.25],[1.21,0.19],[1.39,0.15],[1.52,0.15],[1.64,0.16],[1.76,0.11],[1.89,0.03],[2.01,0.13],[2.13,0.11],[2.25,0.11],[2.38,0.07],[2.44,0.06],[2.57,0.06],[2.75,0.04],[2.93,0.07],[3.18,0.05],[3.37,0.06],[3.56,0.11],[3.68,0.08],[3.8,0.11],[3.93,0.06],[4.05,0.08],[4.24,0.04],[4.42,0.02],[4.61,0.06],[4.8,0.02],[4.98,-0.07],[5.07,-0.1],[5.16,-0.05],[5.29,0.02],[5.42,0.09],[5.51,0.04],[5.6,-0.11],[5.67,-0.18],[5.76,-0.07],[5.85,0.26],[5.93,0.89],[6.03,1.2],[6.12,1.1],[6.18,0.58],[6.26,0.06],[6.37,-0.1],[6.47,-0.03],[6.59,0.04],[6.78,0.0],[6.96,-0.03],[7.15,-0.03],[7.34,0.04],[7.5,0.12],[7.62,0.08],[7.77,0.04],[7.95,0.02],[8.14,0.0],[8.38,0.01],[8.51,-0.05],[8.58,-0.15],[8.65,-0.26],[8.71,0.26],[8.76,0.89],[8.82,2.0],[8.9,3.2],[9.0,3.5],[9.1,3.2],[9.17,2.0],[9.23,0.89],[9.28,0.17],[9.33,-0.29],[9.4,-0.05],[9.5,0.08],[9.69,0.09],[9.81,0.11],[10,0.06]];

const dayLabels = ["44 days", "107 days", "621 days"];
const yMaxes = [5, 2, 2];
const xTickValues = d3.range(-10, 11, 1);
const bracketNames = ["Ly α", "Si II", "S II", "N V", "N V"];
const bracketX = [[-3.2, 0], [-8.64, -5.52], [-9.34, -6.23], [3.44, 6.69], [2.48, 5.70]];
const bracketLabelX = [-2.41, -7.9, -8.6, 4.2, 3.25];
const bracketTops = [[4.0, 1.75, 1.5, 2.75, 2.5], [1.6, 0.7, 0.6, 1.1, 1.0], [1.6, 0.7, 0.6, 1.1, 1.0]];
const bracketDrop = [0.5, 0.2, 0.2];
const headerY = [4.39, 1.76, 1.76];
const headerX = {days: -9.0, geo: -5.48, host: -1.0};

const panelData = [
  {blue: blue44, red: red44, green: green44},
  {blue: blue107, red: red107, green: green107},
  {blue: blue621, red: red621, green: green621}
];

// ---------- LAYOUT ----------
const svg = d3.select("#c");
const L = 68.3, R = 606.7, H = 403.6;
const tops = [9.3, 484.8, 960];
const FS = 17;
const FONT = "Liberation Sans, Arial, sans-serif";

function richText(sel, parts, size, supSize) {
  let shift = 0;
  parts.forEach(p => {
    const t = sel.append("tspan").text(p.t);
    if (p.sup) {
      t.attr("font-size", supSize).attr("dy", -size * 0.42);
      shift = size * 0.42;
    } else {
      t.attr("font-size", size);
      if (shift) { t.attr("dy", shift); shift = 0; }
    }
  });
}

panelData.forEach((pd, i) => {
  const top = tops[i], bottom = top + H;
  const x = d3.scaleLinear().domain([-10, 10]).range([L, R]);
  const y = d3.scaleLinear().domain([-0.5, yMaxes[i]]).range([bottom, top]);
  const g = svg.append("g");
  const clipId = "clip" + i;
  svg.append("clipPath").attr("id", clipId).append("rect")
    .attr("x", L).attr("y", top).attr("width", R - L).attr("height", H);

  const line = d3.line().x(d => x(d[0])).y(d => y(d[1]));
  const plot = g.append("g").attr("clip-path", `url(#${clipId})`);
  plot.append("path").datum(pd.blue).attr("d", line).attr("fill", "none")
    .attr("stroke", "#0000ff").attr("stroke-width", 1.3).attr("stroke-linejoin", "round");
  plot.append("path").datum(pd.green).attr("d", line).attr("fill", "none")
    .attr("stroke", "#00ff00").attr("stroke-width", 1.2).attr("stroke-linejoin", "round");
  plot.append("path").datum(pd.red).attr("d", line).attr("fill", "none")
    .attr("stroke", "#ff0000").attr("stroke-width", 1.2).attr("stroke-linejoin", "round");
  plot.append("line").attr("x1", x(-10)).attr("x2", x(10)).attr("y1", y(0)).attr("y2", y(0))
    .attr("stroke", "#ff0000").attr("stroke-width", 1.2);

  // axes
  const yTicks = d3.range(-0.5, yMaxes[i] + 0.01, 0.5);
  const yFmt = d => d < 0 ? "" : (Number.isInteger(d) ? String(d) : d.toFixed(1));
  const xFmt = d => (d % 2 === 0) ? d3.format("d")(d) : "";
  const ax = [
    g.append("g").attr("transform", `translate(0,${bottom})`)
      .call(d3.axisBottom(x).tickValues(xTickValues).tickSizeInner(-5).tickSizeOuter(0).tickPadding(9).tickFormat(xFmt)),
    g.append("g").attr("transform", `translate(0,${top})`)
      .call(d3.axisTop(x).tickValues(xTickValues).tickSizeInner(-5).tickSizeOuter(0).tickFormat("")),
    g.append("g").attr("transform", `translate(${L},0)`)
      .call(d3.axisLeft(y).tickValues(yTicks).tickSizeInner(-5).tickSizeOuter(0).tickPadding(5).tickFormat(yFmt)),
    g.append("g").attr("transform", `translate(${R},0)`)
      .call(d3.axisRight(y).tickValues(yTicks).tickSizeInner(-5).tickSizeOuter(0).tickFormat(""))
  ];
  ax.forEach(a => {
    a.select(".domain").remove();
    a.selectAll(".tick line").attr("stroke", "#000").attr("stroke-width", 1.2);
    a.selectAll("text").attr("font-size", 17.5).attr("font-family", FONT).attr("fill", "#000");
  });
  g.append("rect").attr("x", L).attr("y", top).attr("width", R - L).attr("height", H)
    .attr("fill", "none").attr("stroke", "#000").attr("stroke-width", 1.8);

  // axis titles
  const xt = g.append("text").attr("x", (L + R) / 2).attr("y", bottom + 46)
    .attr("text-anchor", "middle");
  richText(xt, [{t: "Velocity (km s"}, {t: "−1", sup: true}, {t: ")"}], 18.5, 12.5);
  const yt = g.append("text").attr("text-anchor", "middle")
    .attr("transform", `translate(29,${(top + bottom) / 2}) rotate(-90)`);
  richText(yt, [{t: "Flux (10"}, {t: "−14", sup: true}, {t: " erg cm"}, {t: "−2", sup: true},
    {t: " s"}, {t: "−1", sup: true}, {t: " Å"}, {t: "−1", sup: true}, {t: ")"}], 18.5, 13);

  // header labels
  const hy = y(headerY[i]);
  g.append("text").attr("x", x(headerX.days)).attr("y", hy).attr("dy", "0.36em").attr("font-size", 18).text(dayLabels[i]);
  g.append("text").attr("x", x(headerX.geo)).attr("y", hy).attr("dy", "0.36em").attr("font-size", FS).text("Geocorona");
  g.append("text").attr("x", x(headerX.host)).attr("y", hy).attr("dy", "0.36em").attr("font-size", FS).text("Host");

  // brackets
  bracketNames.forEach((name, k) => {
    const yt0 = y(bracketTops[i][k]), yb = y(bracketTops[i][k] - bracketDrop[i]);
    const [xa, xb] = bracketX[k].map(x);
    g.append("path").attr("d", `M${xa},${yb}V${yt0}H${xb}V${yb}`)
      .attr("fill", "none").attr("stroke", "#333").attr("stroke-width", 1.1);
    g.append("text").attr("x", x(bracketLabelX[k])).attr("y", yt0 - 3)
      .attr("font-size", FS).text(name);
  });
});
</script></body></html>
